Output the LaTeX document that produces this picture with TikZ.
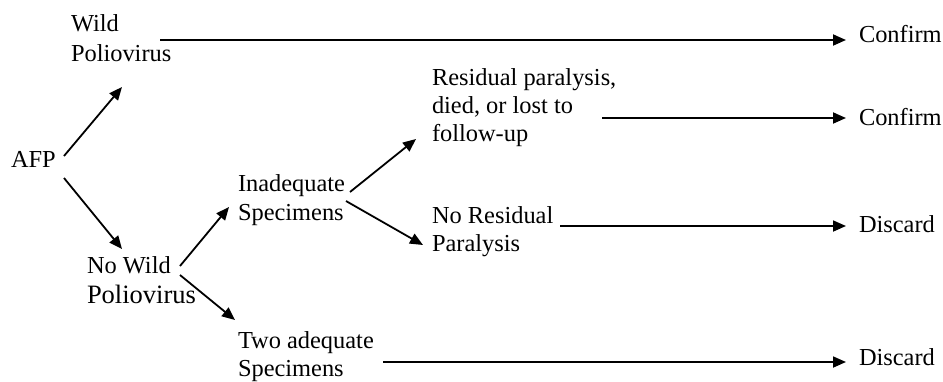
\documentclass[tikz,border=0pt]{standalone}
\usepackage{fontspec}
\setmainfont{Liberation Serif}
\usetikzlibrary{arrows.meta}
\begin{document}
\begin{tikzpicture}[x=1pt,y=-1pt,
  lbl/.style={inner sep=0pt,outer sep=0pt,anchor=base west,align=left,font=\fontsize{24.4}{28.3}\selectfont},
  arr/.style={line width=1.8pt,-{Triangle[length=13pt,width=11pt]}}]
\useasboundingbox (0,0) rectangle (943,381);
% nodes (anchored at the baseline of their last line)
\node[lbl] (afp) at (11,167.3) {AFP};
\node[lbl,font=\fontsize{24.4}{30}\selectfont] (wild) at (71,61.7) {Wild\\Poliovirus};
\node[lbl,font=\fontsize{24.4}{30}\selectfont] (nowild) at (87,303.3) {No Wild\\{\fontsize{26.5}{30}\selectfont Poliovirus}};
\node[lbl] (inad) at (238,220) {Inadequate\\Specimens};
\node[lbl] (two) at (238,376.6) {Two adequate\\Specimens};
\node[lbl] (resid) at (432,141.6) {Residual paralysis,\\died, or lost to\\follow-up};
\node[lbl] (nores) at (432,251.6) {No Residual\\Paralysis};
\node[lbl] (conf1) at (859,42.3) {Confirm};
\node[lbl] (conf2) at (859,125) {Confirm};
\node[lbl] (disc1) at (859,232.3) {Discard};
\node[lbl] (disc2) at (859,365) {Discard};
% connectors
\draw[arr] ([shift={(53,-11.3)}]afp.base west) -- ([shift={(51,25.3)}]wild.base west);
\draw[arr] ([shift={(53,10.7)}]afp.base west) -- ([shift={(35,-54.3)}]nowild.base west);
\draw[arr] ([shift={(93,-37.3)}]nowild.base west) -- ([shift={(-9,-13)}]inad.base west);
\draw[arr] ([shift={(93,-28.3)}]nowild.base west) -- ([shift={(-3,-56.6)}]two.base west);
\draw[arr] ([shift={(112,-28)}]inad.base west) -- ([shift={(-16,-2.6)}]resid.base west);
\draw[arr] ([shift={(108,-19)}]inad.base west) -- ([shift={(-9,-6.6)}]nores.base west);
\draw[arr] ([shift={(89,-21.7)}]wild.base west) -- ([shift={(-13,-2.3)}]conf1.base west);
\draw[arr] ([shift={(170,-23.6)}]resid.base west) -- ([shift={(-13,-7)}]conf2.base west);
\draw[arr] ([shift={(128,-25.6)}]nores.base west) -- ([shift={(-13,-6.3)}]disc1.base west);
\draw[arr] ([shift={(145,-14.6)}]two.base west) -- ([shift={(-13,-3)}]disc2.base west);
\end{tikzpicture}
\end{document}
